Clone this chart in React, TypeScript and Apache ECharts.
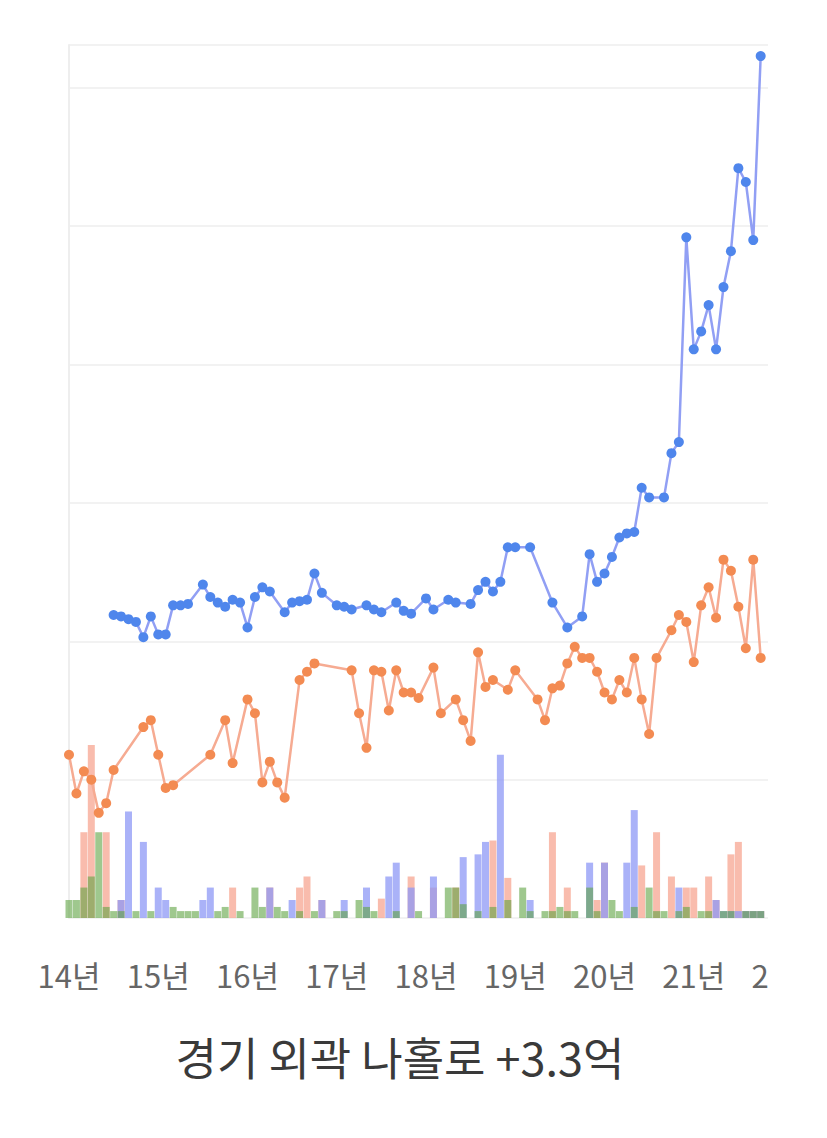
import React, { useEffect, useRef } from "react";
import * as echarts from "echarts";

const titleText = "경기 외곽 나홀로 +3.3억";
const yearLabels = ["14년", "15년", "16년", "17년", "18년", "19년", "20년", "21년", "22년"];
const monthsPerYear = 12;

// monthly categories 2014-01 .. 2022-01
const categories: string[] = [];
for (let yi = 0; yi < yearLabels.length; yi++) {
  for (let m = 1; m <= monthsPerYear; m++) {
    if (yi === yearLabels.length - 1 && m > 1) break;
    categories.push(`${2014 + yi}-${String(m).padStart(2, "0")}`);
  }
}

const N = null;

const blueLine = [
  N, N, N, N, N, N, 219, 218, 216, 214, 203, 218, 205, 205, 226, 226, 227, N, 241, 232,
  228, 225, 230, 228, 210, 232, 239, 236, N, 221, 228, 229, 230, 249, 235, N, 226, 225, 223, N,
  226, 223, 221, N, 228, 222, 220, N, 231, 223, N, 230, 228, N, 227, 237, 243, 236, 243, 268,
  268, N, 268, N, N, 228, N, 210, N, 218, 263, 243, 249, 261, 275, 278, 279, 311, 304, N,
  304, 336, 344, 492, 411, 424, 443, 411, 456, 482, 542, 532, 490, 623,
];

const orangeLine = [
  118, 90, 106, 100, 76, 83, 107, N, N, N, 138, 143, 118, 94, 96, N, N, N, N, 118,
  N, 143, 112, N, 158, 148, 98, 113, 98, 87, N, 172, 178, 184, N, N, N, N, 179, 148,
  123, 179, 178, 150, 179, 163, 163, 159, N, 181, 148, N, 158, 143, 128, 192, 167, 172, N, 165,
  179, N, N, 158, 143, 166, 168, 184, 196, 188, 188, 178, 163, 158, 172, 163, 188, 158, 133, 188,
  N, 208, 219, 214, 185, 226, 239, 217, 259, 251, 225, 195, 259, 188,
];

const blueBars = [
  0, 0, 0, 0, 0, 0, 0, 13, 77, 0, 55, 0, 22, 13, 0, 0, 0, 0, 13, 22,
  0, 0, 0, 0, 0, 0, 0, 22, 0, 0, 13, 0, 0, 0, 13, 0, 0, 13, 0, 0,
  22, 0, 0, 30, 40, 0, 22, 0, 0, 30, 0, 0, 0, 44, 0, 46, 55, 0, 118, 0,
  0, 0, 13, 0, 0, 0, 0, 0, 0, 0, 40, 0, 40, 0, 0, 40, 78, 0, 0, 0,
  0, 0, 22, 0, 0, 0, 0, 13, 5, 5, 5, 5, 5, 5,
];

const salmonBars = [
  0, 0, 62, 125, 0, 62, 0, 13, 0, 0, 0, 0, 0, 0, 0, 0, 0, 0, 0, 0,
  0, 0, 22, 0, 0, 0, 0, 22, 0, 0, 0, 22, 30, 0, 13, 0, 0, 0, 0, 0,
  0, 0, 14, 0, 0, 0, 30, 0, 0, 22, 0, 0, 22, 0, 0, 0, 0, 56, 0, 29,
  0, 0, 0, 0, 0, 62, 0, 22, 0, 0, 0, 13, 40, 0, 0, 0, 0, 38, 0, 62,
  0, 30, 0, 22, 22, 0, 30, 13, 0, 46, 55, 5, 5, 5,
];

const greenBars = [
  13, 13, 22, 30, 62, 8, 5, 5, 0, 5, 0, 5, 0, 0, 8, 5, 5, 5, 0, 0,
  5, 8, 0, 5, 0, 22, 8, 0, 8, 5, 0, 5, 0, 5, 0, 0, 5, 5, 0, 13,
  8, 5, 0, 0, 5, 0, 0, 5, 0, 0, 0, 22, 22, 10, 0, 5, 0, 8, 0, 13,
  0, 22, 5, 0, 5, 5, 8, 5, 5, 0, 22, 5, 0, 13, 5, 0, 8, 0, 22, 5,
  5, 0, 5, 8, 0, 5, 5, 0, 5, 5, 0, 5, 5, 5,
];

const FONT = "'Noto Sans CJK KR', 'Noto Sans', sans-serif";

export default function App() {
  const ref = useRef<HTMLDivElement>(null);

  useEffect(() => {
    if (!ref.current) return;
    const chart = echarts.init(ref.current, undefined, { renderer: "svg" });
    const barCommon = {
      type: "bar" as const,
      barWidth: 7,
      barGap: "-100%",
      z: 1,
    };
    chart.setOption({
      animation: false,
      title: {
        text: titleText,
        left: "center",
        top: 1021,
        textStyle: { fontSize: 45, color: "#3a3a3a", fontWeight: "normal", fontFamily: FONT },
      },
      grid: { left: 61, top: 37, width: 714, height: 873, outerBoundsMode: "none", containLabel: false },
      xAxis: {
        type: "category",
        data: categories,
        boundaryGap: false,
        axisLine: { show: false },
        axisTick: { show: false },
        splitLine: { show: false },
        axisLabel: {
          interval: (i: number) => i % monthsPerYear === 0,
          formatter: (v: string) => yearLabels[parseInt(v.slice(0, 4), 10) - 2014],
          color: "#666",
          fontSize: 31,
          margin: 41,
          fontFamily: FONT,
          showMaxLabel: true,
          hideOverlap: false,
        },
      },
      yAxis: {
        type: "value",
        min: 0,
        max: 631,
        interval: 100,
        axisLine: { show: true, lineStyle: { color: "#eeeeee", width: 2 } },
        axisTick: { show: false },
        axisLabel: { show: false },
        splitLine: { lineStyle: { color: "#f2f2f2", width: 2 } },
      },
      series: [
        { ...barCommon, name: "salmonBars", data: salmonBars, itemStyle: { color: "#f7a08a", opacity: 0.7 } },
        { ...barCommon, name: "blueBars", data: blueBars, itemStyle: { color: "#8d98f5", opacity: 0.75 } },
        { ...barCommon, name: "greenBars", data: greenBars, itemStyle: { color: "#5fa443", opacity: 0.6 } },
        {
          type: "line",
          name: "orange",
          data: orangeLine,
          connectNulls: true,
          showAllSymbol: true,
          symbol: "circle",
          symbolSize: 10,
          z: 3,
          lineStyle: { color: "#f6ab92", width: 2.5 },
          itemStyle: { color: "#f38b52" },
        },
        {
          type: "line",
          name: "blue",
          data: blueLine,
          connectNulls: true,
          showAllSymbol: true,
          symbol: "circle",
          symbolSize: 10,
          z: 4,
          lineStyle: { color: "#919ff4", width: 2.5 },
          itemStyle: { color: "#4f86ec" },
        },
      ],
    });
    return () => chart.dispose();
  }, []);

  return (
    <div style={{ width: 760, height: 1122, overflow: "hidden", position: "relative" }}>
      <div ref={ref} style={{ width: 784, height: 1122 }} />
    </div>
  );
}
